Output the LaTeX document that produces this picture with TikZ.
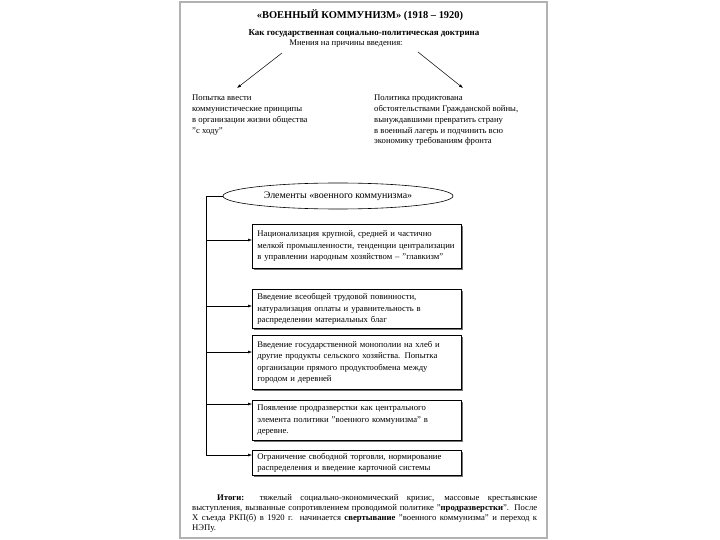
\documentclass[tikz,border=0pt]{standalone}
\usepackage{fontspec}
\setmainfont{Liberation Serif}
\usetikzlibrary{arrows.meta, positioning, shapes.geometric, shadows}
\tikzset{
  element/.style={
    rectangle,
    draw,
    fill=white,
    line width=0.8pt,
    align=left,
    anchor=north west,
    text width=199bp,
    inner xsep=5bp,
    inner ysep=2bp,
    font=\fontsize{8.7}{11.5}\selectfont,
    drop shadow={shadow xshift=1.2bp, shadow yshift=-1.2bp, fill=black!55, opacity=1}
  },
  opinion/.style={
    align=left,
    anchor=north west,
    inner sep=0pt,
    font=\fontsize{8.7}{10.8}\selectfont
  },
  heading/.style={font=\bfseries\fontsize{10.5}{12}\selectfont, inner sep=0pt},
  subheading/.style={font=\bfseries\fontsize{9}{10}\selectfont, inner sep=0pt},
  plain/.style={font=\fontsize{8.7}{10}\selectfont, inner sep=0pt},
  oval/.style={
    ellipse,
    draw,
    line width=0.6pt,
    minimum width=230bp,
    minimum height=26bp,
    inner sep=0pt,
    font=\fontsize{10}{11}\selectfont
  },
  frame/.style={draw=black!30, line width=1.6bp},
  arrow/.style={-{Latex[length=4bp, width=3bp]}, line width=0.5pt},
  trunk/.style={line width=0.6pt}
}
\begin{document}
\begin{tikzpicture}[x=1bp, y=-1bp]
  \useasboundingbox (0,0) rectangle (720,540);
  \draw[frame] (180,2) rectangle (547,538);

  % headings
  \node[heading] (title) at (360,15) {«ВОЕННЫЙ КОММУНИЗМ» (1918 – 1920)};
  \node[subheading] (doctrine) at (364,34) {Как государственная социально-политическая доктрина};
  \node[plain] (views) at (346,44) {Мнения на причины введения:};

  % two opinions
  \coordinate (lfrom) at (282,53);
  \coordinate (lto) at (237,88);
  \coordinate (rfrom) at (418,52);
  \coordinate (rto) at (463,88);
  \draw[arrow] (lfrom) -- (lto);
  \draw[arrow] (rfrom) -- (rto);

  \node[opinion] (utopia) at (192,95) {Попытка ввести\\коммунистические принципы\\в организации жизни общества\\"с ходу"};
  \node[opinion] (war) at (374,95) {Политика продиктована\\обстоятельствами Гражданской войны,\\вынуждавшими превратить страну\\в военный лагерь и подчинить всю\\экономику требованиям фронта};

  % elements
  \node[oval] (elements) at (338,196) {Элементы «военного коммунизма»};

  \node[element, minimum height=44bp] (nation) at (252,224) {Национализация крупной, средней и частично\\мелкой промышленности, тенденции централизации\\в управлении народным хозяйством – "главкизм"};
  \node[element, minimum height=39bp] (labour) at (252,289) {Введение всеобщей трудовой повинности,\\натурализация оплаты и уравнительность в\\распределении материальных благ};
  \node[element, minimum height=54bp] (monopoly) at (252,335) {Введение государственной монополии на хлеб и\\другие продукты сельского хозяйства. Попытка\\организации прямого продуктообмена между\\городом и деревней};
  \node[element, minimum height=40bp] (razverstka) at (252,400) {Появление продразверстки как центрального\\элемента политики "военного коммунизма" в\\деревне.};
  \node[element, minimum height=25bp] (cards) at (252,450) {Ограничение свободной торговли, нормирование\\распределения и введение карточной системы};

  \coordinate (top) at (206,196);
  \coordinate (t1) at (206,240);
  \coordinate (t2) at (206,306);
  \coordinate (t3) at (206,352);
  \coordinate (t4) at (206,404);
  \coordinate (t5) at (206,455);
  \draw[trunk] (elements.west) -- (top) -- (t5);
  \draw[arrow] (t1) -- (t1 -| nation.west);
  \draw[arrow] (t2) -- (t2 -| labour.west);
  \draw[arrow] (t3) -- (t3 -| monopoly.west);
  \draw[arrow] (t4) -- (t4 -| razverstka.west);
  \draw[arrow] (t5) -- (t5 -| cards.west);

  % results
  \node[opinion, text width=345bp, align=justify, font=\fontsize{8.7}{10.3}\selectfont] (results) at (192,494)
    {\hspace*{25bp}\textbf{Итоги:} тяжелый социально-экономический кризис, массовые крестьянские\linebreak
     выступления, вызванные сопротивлением проводимой политике "\textbf{продразверстки}". После\linebreak
     X съезда РКП(б) в 1920 г. начинается \textbf{свертывание} "военного коммунизма" и переход к\linebreak
     НЭПу.};
\end{tikzpicture}
\end{document}
